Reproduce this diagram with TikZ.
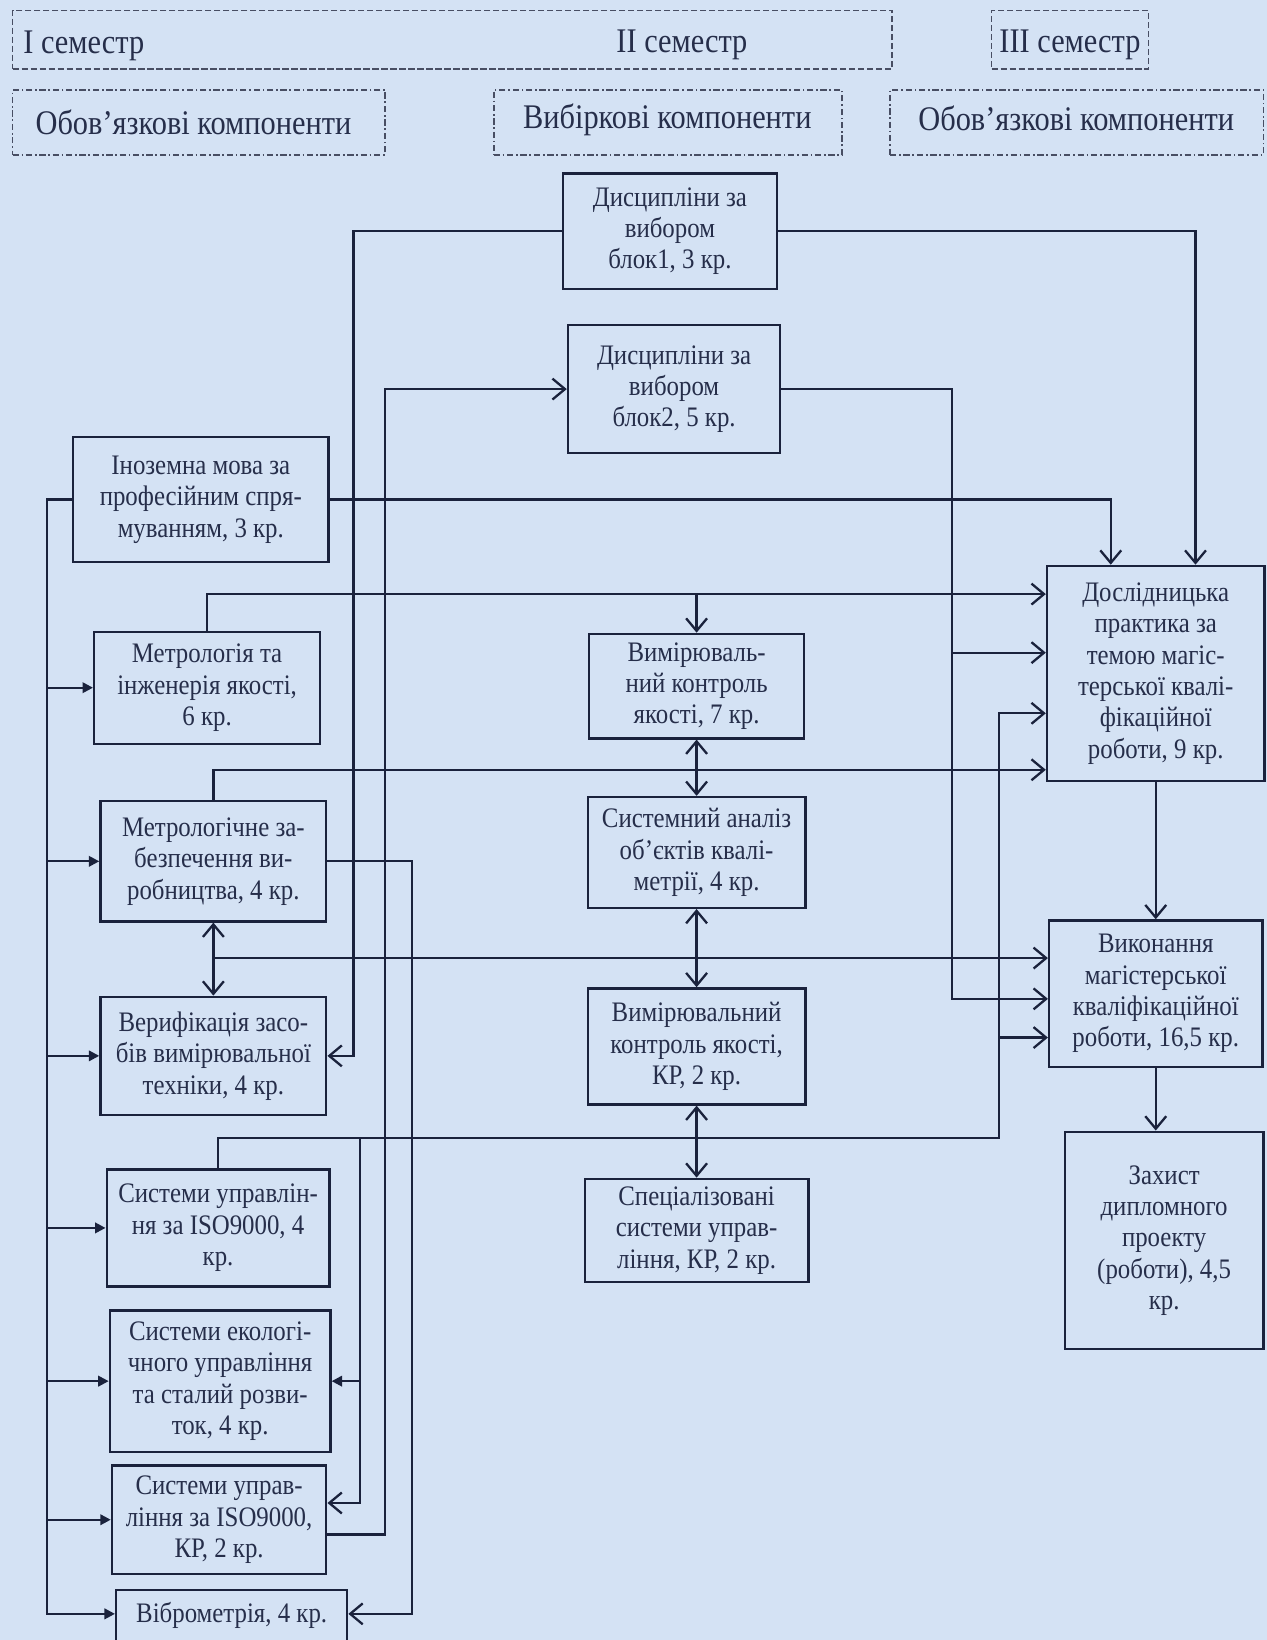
\documentclass[tikz,border=0pt]{standalone}
\usepackage{fontspec}
\setmainfont{Liberation Serif}[FakeStretch=0.88]
\usetikzlibrary{arrows.meta}
\definecolor{bgc}{RGB}{212,226,244}
\definecolor{ink}{RGB}{26,34,60}
\definecolor{txt}{RGB}{38,46,74}
\newcommand\mybox[6]{\node[bx,minimum width={(#4-#2)*0.5pt},minimum height={(#5-#3)*0.5pt}] (#1) at ({(#2+#4)/2},{(#3+#5)/2}) {#6};}
\newcommand\myrect[6]{\node[#1,inner sep=0pt,minimum width={(#5-#3)*0.5pt},minimum height={(#6-#4)*0.5pt}] (#2) at ({(#3+#5)/2},{(#4+#6)/2}) {};}
\begin{document}
\begin{tikzpicture}[x=0.5pt,y=-0.5pt,
  bx/.style={draw=ink,line width=1.1pt,inner sep=0pt,align=center,text=txt,font=\fontsize{13.5}{15}\selectfont},
  hdr/.style={draw=ink!80,line width=0.8pt,dash pattern=on 3pt off 1.3pt},
  hdd/.style={draw=ink!80,line width=0.8pt,dash pattern=on 3pt off 1.3pt on 0.8pt off 1.3pt},
  htxt/.style={text=txt,font=\fontsize{16.5}{19}\selectfont,inner sep=0pt},
  ln/.style={draw=ink,line width=1.1pt},
  oa/.style={ln,-{Straight Barb[length=6pt,width=10pt]}},
  da/.style={ln,{Straight Barb[length=6pt,width=10pt]}-{Straight Barb[length=6pt,width=10pt]}},
  fa/.style={ln,-{Triangle[length=5pt,width=5pt]}}]
\fill[bgc] (0,0) rectangle (1211,1568);
\useasboundingbox (0,0) rectangle (1211,1568);
% headers
\myrect{hdr}{sem12}{12}{10}{853}{66}
\myrect{hdr}{sem3}{948}{10}{1098}{66}
\myrect{hdd}{ob1}{12}{86}{368}{148}
\myrect{hdd}{vyb}{472}{86}{805}{148}
\myrect{hdd}{ob2}{851}{86}{1208}{148}
\node[htxt,anchor=west] (t1) at (22,44) {I семестр};
\node[htxt] (t2) at (652,43) {II семестр};
\node[htxt] (t3) at (1023,43) {III семестр};
\node[htxt] (t4) at (185,117) {Обов’язкові компоненти};
\node[htxt] (t5) at (638,115) {Вибіркові компоненти};
\node[htxt] (t6) at (1029,113) {Обов’язкові компоненти};
% boxes
\mybox{disc1}{538}{166}{743}{276}{Дисципліни за\\вибором\\блок1, 3 кр.}
\mybox{disc2}{543}{311}{746}{433}{Дисципліни за\\вибором\\блок2, 5 кр.}
\mybox{inoz}{70}{418}{314}{537}{Іноземна мова за\\професійним спря-\\муванням, 3 кр.}
\mybox{metr}{90}{604}{306}{711}{Метрологія та\\інженерія якості,\\6 кр.}
\mybox{mzab}{96}{766}{312}{881}{Метрологічне за-\\безпечення ви-\\робництва, 4 кр.}
\mybox{verif}{96}{953}{312}{1066}{Верифікація засо-\\бів вимірювальної\\техніки, 4 кр.}
\mybox{iso}{102}{1118}{315}{1230}{Системи управлін-\\ня за ISO9000, 4\\кр.}
\mybox{eco}{105}{1253}{316}{1388}{Системи екологі-\\чного управління\\та сталий розви-\\ток, 4 кр.}
\mybox{isokr}{107}{1401}{312}{1505}{Системи управ-\\ління за ISO9000,\\КР, 2 кр.}
\node[bx,minimum width={(332-111)*0.5pt},minimum height={64*0.5pt},text height=9pt,text depth=10pt] (vibro) at ({(111+332)/2},1552) {Віброметрія, 4 кр.};
\mybox{vym}{563}{606}{769}{706}{Вимірюваль-\\ний контроль\\якості, 7 кр.}
\mybox{sysan}{562}{762}{770}{868}{Системний аналіз\\об’єктів квалі-\\метрії, 4 кр.}
\mybox{vymkr}{562}{945}{770}{1056}{Вимірювальний\\контроль якості,\\КР, 2 кр.}
\mybox{spec}{559}{1127}{773}{1226}{Спеціалізовані\\системи управ-\\ління, КР, 2 кр.}
\mybox{dosl}{1001}{541}{1209}{747}{Дослідницька\\практика за\\темою магіс-\\терської квалі-\\фікаційної\\роботи, 9 кр.}
\mybox{vyk}{1003}{880}{1207}{1020}{Виконання\\магістерської\\кваліфікаційної\\роботи, 16,5 кр.}
\mybox{zakh}{1018}{1082}{1208}{1290}{Захист\\дипломного\\проекту\\(роботи), 4,5\\кр.}
% lanes
\coordinate (xbus) at (45,0);
\coordinate (xD) at (338,0);
\coordinate (xJ) at (344,0);
\coordinate (xK) at (368,0);
\coordinate (xL) at (394,0);
\coordinate (xH) at (910,0);
\coordinate (xI) at (955,0);
\coordinate (xB) at (1062,0);
\coordinate (xC) at (1143,0);
\coordinate (yF) at (0,568);
\coordinate (yHd) at (0,624);
\coordinate (yI) at (0,682);
\coordinate (yG) at (0,736);
\coordinate (yE) at (0,916);
\coordinate (yHv) at (0,955);
\coordinate (yIv) at (0,992);
\coordinate (yh) at (0,1088);
\coordinate (yJ) at (0,1437);
\coordinate (yK) at (0,1467);
\coordinate (yV) at (0,1543);
% left bus
\draw[fa] (inoz.west) -| (xbus |- yV) -- (vibro.west |- yV);
\foreach \n in {metr,mzab,verif,iso,eco,isokr}{\draw[fa] (xbus |- \n.west) -- (\n.west);}
% to Dosl top
\draw[oa] (inoz.east) -| (dosl.north -| xB);
\draw[oa] (disc1.east) -| (dosl.north -| xC);
% left lanes
\draw[oa] (disc1.west) -| (xD |- verif.east) -- (verif.east);
\draw[oa] (isokr.east |- yK) -| (xK |- disc2.west) -- (disc2.west);
\draw[oa] (mzab.east) -| (xL |- yV) -- (vibro.east |- yV);
\draw[oa] (xJ |- yh) |- (isokr.east |- yJ);
\draw[fa] (xJ |- eco.east) -- (eco.east);
% ISO top line
\draw[oa] (iso.north) |- (xI |- yh) |- (dosl.west |- yI);
\draw[oa] (xI |- yIv) -- (vyk.west |- yIv);
% Metrology top
\draw[oa] (metr.north) |- (dosl.west |- yF);
\draw[oa] (vym.north |- yF) -- (vym.north);
\draw[oa] (mzab.north) |- (dosl.west |- yG);
% mzab/verif junction
\coordinate (e0) at (mzab.south |- yE);
\draw[oa] (e0) -- (mzab.south);
\draw[oa] (e0) -- (verif.north);
\draw[oa] (e0) -- (vyk.west |- yE);
% disc2 right
\draw[oa] (disc2.east) -| (xH |- yHv) -- (vyk.west |- yHv);
\draw[oa] (xH |- yHd) -- (dosl.west |- yHd);
% middle column
\draw[da] (vym.south) -- (sysan.north);
\draw[da] (sysan.south) -- (vymkr.north);
\draw[da] (vymkr.south) -- (spec.north);
% right column
\draw[oa] (dosl.south) -- (vyk.north);
\draw[oa] (vyk.south) -- (vyk.south |- zakh.north);
\end{tikzpicture}
\end{document}
